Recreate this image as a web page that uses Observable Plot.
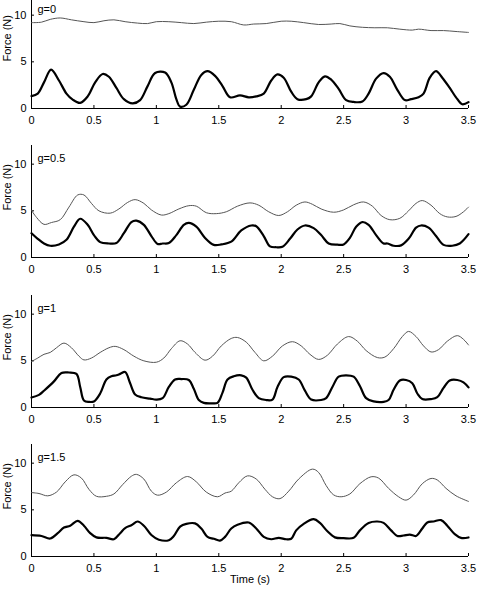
<!DOCTYPE html>
<html><head><meta charset="utf-8">
<script src="https://cdn.jsdelivr.net/npm/d3@7"></script>
<script src="https://cdn.jsdelivr.net/npm/@observablehq/plot@0.6"></script>
<style>
body{margin:0;background:#fff;}
#chart{position:relative;width:478px;height:592px;overflow:hidden;font-family:"Liberation Sans",Arial,sans-serif;background:#fff;}
#chart > div{position:absolute;left:0;}
</style></head><body><div id="chart"></div>
<script>
const timeTicks = [0, 0.5, 1, 1.5, 2, 2.5, 3, 3.5];
const forceTicks = [0, 5, 10];
const panelLabels = ["g=0", "g=0.5", "g=1", "g=1.5"];
const xTitle = "Time (s)";
const yTitle = "Force (N)";

// g=0
const g0_thin_t = [0,0.08,0.15,0.23,0.32,0.42,0.5,0.58,0.66,0.75,0.85,0.93,1.0,1.1,1.2,1.3,1.4,1.5,1.6,1.7,1.78,1.88,2.0,2.08,2.18,2.3,2.4,2.47,2.55,2.65,2.75,2.85,2.95,3.05,3.1,3.2,3.3,3.4,3.5];
const g0_thin_f = [9.2,9.25,9.55,9.7,9.5,9.3,9.2,9.4,9.5,9.3,9.15,9.1,9.3,9.3,9.2,9.1,9.25,9.35,9.3,8.95,9.05,9.1,9.35,9.35,9.2,9.0,9.05,9.1,8.85,8.7,8.65,8.65,8.5,8.4,8.5,8.35,8.35,8.25,8.15];
const g0_thick_t = [0,0.05,0.10,0.157,0.22,0.28,0.33,0.39,0.45,0.51,0.57,0.62,0.68,0.74,0.81,0.87,0.93,0.99,1.07,1.12,1.16,1.19,1.24,1.30,1.36,1.41,1.47,1.53,1.59,1.67,1.74,1.80,1.86,1.92,1.97,2.02,2.08,2.13,2.20,2.24,2.30,2.35,2.40,2.46,2.52,2.58,2.65,2.70,2.76,2.82,2.87,2.93,2.99,3.04,3.10,3.14,3.19,3.24,3.29,3.35,3.40,3.45,3.50];
const g0_thick_f = [1.33,1.6,2.8,4.17,3.0,1.6,0.95,0.6,1.3,2.8,3.7,3.4,2.2,1.0,0.55,0.9,2.4,3.8,3.85,2.8,1.0,0.2,0.4,2.0,3.6,4.0,3.5,2.4,1.2,1.4,1.2,1.3,1.6,3.0,3.65,3.3,1.8,1.0,1.0,1.3,2.8,3.45,3.1,2.1,0.9,0.7,0.75,1.6,3.2,3.8,3.4,2.0,0.9,1.0,1.2,1.6,3.3,4.0,3.3,2.2,1.2,0.45,0.68];

// g=0.5
const g05_thin_t = [0,0.04,0.1,0.16,0.23,0.3,0.37,0.42,0.48,0.54,0.63,0.7,0.77,0.83,0.9,0.96,1.04,1.1,1.18,1.26,1.32,1.4,1.48,1.56,1.65,1.75,1.82,1.9,1.98,2.05,2.12,2.19,2.25,2.32,2.42,2.5,2.58,2.66,2.73,2.8,2.87,2.95,3.02,3.08,3.13,3.2,3.27,3.33,3.4,3.46,3.5];
const g05_thin_f = [5.05,4.3,3.55,3.75,4.05,5.4,6.7,6.7,5.8,5.0,4.75,5.2,5.9,6.2,5.8,5.1,4.55,4.7,5.2,5.55,5.5,4.8,4.7,4.9,5.5,5.85,5.6,4.9,4.5,4.9,5.6,5.95,5.7,5.2,4.85,5.1,5.65,5.95,5.5,4.5,4.05,4.2,5.0,5.8,6.1,5.6,4.7,4.35,4.4,4.9,5.4];
const g05_thick_t = [0,0.05,0.1,0.15,0.22,0.28,0.34,0.39,0.45,0.5,0.55,0.62,0.68,0.74,0.8,0.84,0.9,0.96,1.01,1.05,1.1,1.16,1.22,1.26,1.32,1.39,1.46,1.52,1.6,1.68,1.76,1.8,1.86,1.91,1.96,2.01,2.07,2.13,2.19,2.26,2.32,2.38,2.45,2.5,2.55,2.6,2.65,2.7,2.76,2.82,2.85,2.9,2.96,3.02,3.08,3.12,3.18,3.24,3.3,3.37,3.43,3.5];
const g05_thick_f = [2.6,2.0,1.5,1.26,1.4,1.9,3.3,4.15,3.5,2.4,1.65,1.5,1.55,2.6,3.8,3.95,3.5,2.3,1.45,1.5,1.55,2.4,3.5,3.7,3.3,2.1,1.35,1.4,1.7,2.9,3.43,3.35,2.3,1.2,1.1,1.15,2.0,3.0,3.43,3.15,2.4,1.5,1.37,1.4,2.1,3.3,3.8,3.5,2.4,1.5,1.5,1.26,1.3,2.0,3.2,3.43,3.2,2.3,1.35,1.26,1.5,2.5];

// g=1
const g1_thin_t = [0,0.05,0.1,0.15,0.2,0.26,0.32,0.38,0.42,0.48,0.55,0.62,0.67,0.74,0.82,0.9,1.0,1.06,1.12,1.19,1.25,1.31,1.39,1.45,1.52,1.6,1.65,1.72,1.79,1.86,1.93,2.01,2.09,2.16,2.23,2.3,2.37,2.45,2.54,2.61,2.68,2.77,2.83,2.9,2.97,3.02,3.08,3.14,3.2,3.26,3.33,3.41,3.46,3.5];
const g1_thin_f = [4.93,5.3,5.7,5.9,6.4,6.9,6.4,5.5,5.1,5.3,5.9,6.4,6.55,6.2,5.5,5.0,4.85,5.3,6.3,7.15,6.8,5.9,5.07,5.5,6.6,7.4,7.5,7.0,5.9,5.0,5.5,6.6,7.05,6.6,5.7,5.15,5.6,6.8,7.6,7.1,6.1,5.35,5.4,6.3,7.6,8.15,7.6,6.6,5.95,6.2,7.1,7.7,7.3,6.7];
const g1_thick_t = [0,0.06,0.1,0.18,0.24,0.3,0.36,0.39,0.42,0.46,0.5,0.55,0.6,0.64,0.68,0.71,0.75,0.79,0.83,0.88,0.95,1.0,1.05,1.1,1.15,1.2,1.26,1.3,1.34,1.38,1.44,1.49,1.53,1.57,1.62,1.68,1.72,1.77,1.82,1.88,1.93,1.97,2.02,2.08,2.14,2.19,2.24,2.32,2.36,2.41,2.46,2.52,2.58,2.63,2.68,2.74,2.82,2.86,2.9,2.95,3.0,3.05,3.09,3.13,3.2,3.25,3.3,3.35,3.41,3.46,3.5];
const g1_thick_f = [1.07,1.35,1.8,2.8,3.7,3.75,3.6,2.2,0.75,0.6,0.65,1.5,3.0,3.35,3.45,3.6,3.8,2.6,1.4,1.1,0.95,0.85,1.0,2.2,3.0,3.05,2.95,2.0,0.8,0.5,0.45,0.5,1.6,3.0,3.35,3.45,3.2,1.9,1.0,0.8,0.85,2.2,3.25,3.3,3.0,1.8,0.85,0.8,1.0,2.2,3.3,3.45,3.3,2.3,1.0,0.65,0.6,0.8,1.9,2.9,2.95,2.6,1.5,0.9,0.9,1.1,2.1,2.9,2.95,2.7,2.15];

// g=1.5
const g15_thin_t = [0,0.06,0.13,0.2,0.27,0.34,0.4,0.46,0.52,0.6,0.66,0.73,0.8,0.84,0.9,0.96,1.01,1.08,1.16,1.25,1.32,1.4,1.49,1.55,1.6,1.66,1.73,1.8,1.87,1.93,1.99,2.06,2.14,2.25,2.3,2.36,2.42,2.48,2.55,2.63,2.72,2.78,2.86,2.94,3.0,3.06,3.13,3.2,3.25,3.32,3.4,3.5];
const g15_thin_f = [6.85,6.75,6.5,6.9,8.0,8.75,8.4,7.2,6.45,6.45,6.7,7.7,8.6,8.8,8.3,7.0,6.57,6.9,7.9,8.57,8.0,6.9,6.4,6.8,7.0,7.9,8.64,8.3,7.2,6.4,6.2,7.0,8.3,9.36,9.0,7.6,6.6,6.4,6.7,7.8,8.54,8.4,7.3,6.4,6.04,6.6,7.8,8.36,8.2,7.3,6.5,5.9];
const g15_thick_t = [0,0.08,0.15,0.21,0.26,0.31,0.37,0.42,0.47,0.52,0.6,0.66,0.71,0.75,0.8,0.85,0.9,0.96,1.02,1.1,1.14,1.19,1.24,1.31,1.36,1.41,1.46,1.51,1.55,1.6,1.65,1.74,1.8,1.86,1.92,1.98,2.04,2.08,2.12,2.18,2.26,2.31,2.37,2.43,2.5,2.58,2.63,2.7,2.77,2.82,2.88,2.93,2.98,3.03,3.08,3.13,3.17,3.22,3.28,3.33,3.39,3.44,3.5];
const g15_thick_f = [2.29,2.2,1.93,2.5,3.1,3.3,3.82,3.3,2.5,2.05,2.0,1.85,2.5,3.05,3.35,3.75,3.3,2.3,1.8,1.75,2.2,3.2,3.5,3.55,3.0,2.1,1.9,1.7,2.1,3.0,3.4,3.64,3.0,2.1,1.85,2.0,1.85,1.9,2.8,3.5,4.0,3.6,2.7,2.05,1.96,2.0,2.8,3.6,3.75,3.6,2.8,2.2,2.25,2.35,2.2,3.0,3.65,3.75,3.9,3.3,2.4,2.0,2.04];

const panels = [
  {label: panelLabels[0], thin: [g0_thin_t, g0_thin_f], thick: [g0_thick_t, g0_thick_f], top: -4, last: false},
  {label: panelLabels[1], thin: [g05_thin_t, g05_thin_f], thick: [g05_thick_t, g05_thick_f], top: 145, last: false},
  {label: panelLabels[2], thin: [g1_thin_t, g1_thin_f], thick: [g1_thick_t, g1_thick_f], top: 295, last: false},
  {label: panelLabels[3], thin: [g15_thin_t, g15_thin_f], thick: [g15_thick_t, g15_thick_f], top: 444, last: true}
];

const toRows = ([t, f]) => t.map((d, i) => ({t: d, f: f[i]}));
const chart = document.getElementById("chart");
const font = "'Liberation Sans', Arial, sans-serif";

for (const p of panels) {
  const mb = p.last ? 36 : 22;
  const marks = [
    Plot.ruleX([0]),
    Plot.ruleY([0]),
    Plot.axisX(timeTicks, {tickSize: -3, tickPadding: 11, tickFormat: d => String(d), label: null, fontSize: 11}),
    Plot.axisY(forceTicks, {tickSize: -3, tickPadding: 8, label: null, fontSize: 11}),
    Plot.line(toRows(p.thin), {x: "t", y: "f", stroke: "#555", strokeWidth: 1, curve: "catmull-rom"}),
    Plot.line(toRows(p.thick), {x: "t", y: "f", stroke: "#000", strokeWidth: 2.2, curve: "catmull-rom"}),
    Plot.text([p.label], {frameAnchor: "top-left", dx: 6, dy: 9, textAnchor: "start", fontSize: 11}),
    Plot.text([yTitle], {frameAnchor: "left", dx: -24, dy: 9, rotate: -90, fontSize: 11})
  ];
  if (p.last) marks.push(Plot.text([xTitle], {frameAnchor: "bottom", dy: 26, fontSize: 11}));
  const svg = Plot.plot({
    width: 478,
    height: 112 + mb,
    marginLeft: 31,
    marginRight: 10,
    marginTop: 0,
    marginBottom: mb,
    x: {domain: [0, 3.5]},
    y: {domain: [0, 12]},
    style: {fontFamily: font, fontSize: "11px", color: "#000", background: "transparent", overflow: "visible"},
    marks
  });
  const wrap = document.createElement("div");
  wrap.style.top = p.top + "px";
  wrap.appendChild(svg);
  chart.appendChild(wrap);
}
</script></body></html>
